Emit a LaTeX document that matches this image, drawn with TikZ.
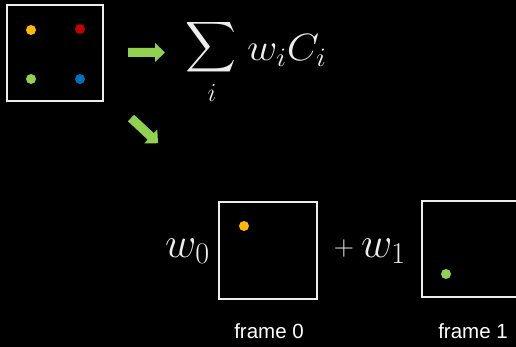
\RequirePackage{fix-cm}
\documentclass[tikz,border=0pt]{standalone}
\usepackage{amsmath}
\usepackage{graphicx}
\usepackage{fontspec}
\setsansfont{Liberation Sans}
\definecolor{dotyellow}{HTML}{FFB900}
\definecolor{dotred}{HTML}{C00000}
\definecolor{dotgreen}{HTML}{92D050}
\definecolor{dotblue}{HTML}{0070C0}
\definecolor{arrowgreen}{HTML}{92D050}
\definecolor{inkwhite}{HTML}{EDEDED}
\tikzset{
  framebox/.style={draw=inkwhite, line width=2pt},
  dot/.style={circle, inner sep=0pt, minimum size=10pt},
  pics/greenarrow/.style={code={
    \fill[arrowgreen] (0,-4.5) -- (27,-4.5) -- (27,-9.5) -- (37,0) -- (27,9.5) -- (27,4.5) -- (0,4.5) -- cycle;
  }},
  mathtext/.style={text=inkwhite, inner sep=0pt, font=\fontsize{43}{46}\selectfont},
  caption/.style={text=white, inner sep=0pt, font=\sffamily\fontsize{20.5}{24}\selectfont},
}
\begin{document}
\begin{tikzpicture}[x=1pt,y=-1pt]
\clip (0,0) rectangle (516,347);
\fill[black] (0,0) rectangle (516,347);
\useasboundingbox (0,0) rectangle (516,347);
% source box
\draw[framebox] (7,5) rectangle (103,101);
\node[dot, fill=dotyellow] (dy) at (31,30) {};
\node[dot, fill=dotred] (dr) at (80,29) {};
\node[dot, fill=dotgreen] (dg) at (31,79) {};
\node[dot, fill=dotblue] (db) at (80,79) {};
% arrows
\pic at (128,52.5) {greenarrow};
\pic[rotate=-43] at (131,118) {greenarrow};
% formula
\node[text=inkwhite, inner sep=0pt] (sigma) at (211.5,47.5)
  {\resizebox{51pt}{!}{$\displaystyle\sum$}};
\node[mathtext, font=\fontsize{26}{28}\selectfont, anchor=base] (idx) at (212,102) {$i$};
\node[mathtext, font=\fontsize{38}{42}\selectfont, anchor=base west] (terms) at (247,61)
  {\scalebox{1.1}[1]{$w_iC_i$}};
% frames
\draw[framebox] (219,202) rectangle (317,299);
\node[dot, fill=dotyellow] (f0d) at (244,226) {};
\draw[framebox] (422,201) rectangle (540,297);
\node[dot, fill=dotgreen] (f1d) at (446,274) {};
\node[mathtext, anchor=base west] (w0) at (165,257) {$w_0$};
\node[mathtext, font=\fontsize{28}{30}\selectfont] (plus) at (344,248.5) {$+$};
\node[mathtext, anchor=base west] (w1) at (361,257) {$w_1$};
\node[caption, anchor=base] (c0) at (269,338) {frame 0};
\node[caption, anchor=base] (c1) at (473,338) {frame 1};
\end{tikzpicture}
\end{document}
